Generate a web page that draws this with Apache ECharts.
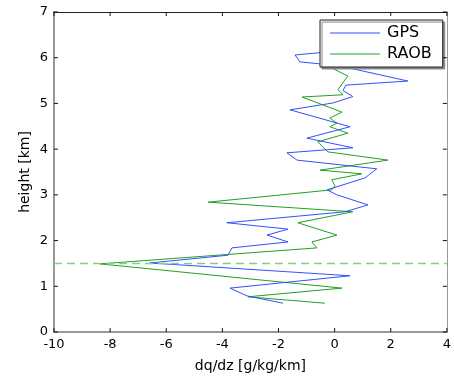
<!DOCTYPE html>
<html><head><meta charset="utf-8">
<script src="https://cdn.jsdelivr.net/npm/echarts@6/dist/echarts.min.js"></script>
<style>html,body{margin:0;padding:0;background:#fff}#c{width:454px;height:381px}</style>
</head><body><div id="c"></div>
<script>
// GPS profile: [dq/dz, height]
const gpsX = [-1.84,-3.12,-3.73,0.55,-6.58,-3.80,-3.66,-1.66,-2.41,-1.66,-3.84,0.37,1.19,0.08,-0.27,1.08,1.50,-1.34,-1.70,0.65,-0.99,0.55,-1.59,-0.06,0.65,0.30,0.40,2.61,0.19,-1.24,-1.41,-0.17];
const gpsH = [0.63,0.79,0.96,1.23,1.51,1.68,1.84,1.97,2.12,2.25,2.39,2.63,2.78,3.00,3.11,3.37,3.57,3.76,3.92,4.03,4.24,4.49,4.86,5.01,5.15,5.28,5.40,5.49,5.82,5.91,6.06,6.13];
// RAOB profile
const raobX = [-0.35,-3.09,0.26,-8.36,-0.63,-0.81,0.08,-1.31,0.65,-4.51,-0.10,0.01,-0.10,0.97,-0.52,1.90,-0.24,-0.60,0.47,-0.17,0.08,-0.17,0.26,-1.16,0.30,0.12,0.47,-0.52];
const raobH = [0.63,0.77,0.96,1.49,1.84,1.97,2.12,2.39,2.63,2.84,3.11,3.20,3.33,3.46,3.54,3.76,3.94,4.16,4.35,4.49,4.57,4.68,4.81,5.14,5.19,5.30,5.60,5.90];
const refHeight = 1.5;
// tick values
const xTickVals = [-10,-8,-6,-4,-2,0,2,4];
const yTickVals = [0,1,2,3,4,5,6,7];
const xRange = [-10, 4];
const yRange = [0, 7];

const font = 'DejaVu Sans';
const chart = echarts.init(document.getElementById('c'), null, {renderer:'canvas'});
const pairs = (xs, hs) => xs.map((v,i)=>[v, hs[i]]);
const TL = 4;
function tickRender(isX) {
  return function(params, api) {
    const v = api.value(0);
    let a, b;
    if (isX) {
      a = api.coord([v, yRange[0]]); b = api.coord([v, yRange[1]]);
      return {type:'group', children:[
        {type:'line', shape:{x1:a[0], y1:a[1], x2:a[0], y2:a[1]-TL}, style:{stroke:'#111', lineWidth:1}},
        {type:'line', shape:{x1:b[0], y1:b[1], x2:b[0], y2:b[1]+TL}, style:{stroke:'#111', lineWidth:1}}
      ]};
    } else {
      a = api.coord([xRange[0], v]); b = api.coord([xRange[1], v]);
      return {type:'group', children:[
        {type:'line', shape:{x1:a[0], y1:a[1], x2:a[0]+TL, y2:a[1]}, style:{stroke:'#111', lineWidth:1}},
        {type:'line', shape:{x1:b[0], y1:b[1], x2:b[0]-TL, y2:b[1]}, style:{stroke:'#111', lineWidth:1}}
      ]};
    }
  };
}
chart.setOption({
  animation:false,
  grid:{left:54, right:7, top:12, bottom:49, show:false},
  xAxis:[{
    type:'value', min:xRange[0], max:xRange[1], interval:2, position:'bottom',
    axisLine:{show:true, onZero:false, lineStyle:{color:'#999', width:2}},
    axisTick:{show:false}, splitLine:{show:false},
    axisLabel:{color:'#000', fontFamily:font, fontSize:13, margin:6},
    name:'dq/dz [g/kg/km]', nameLocation:'middle', nameGap:27, nameMoveOverlap:false,
    nameTextStyle:{color:'#000', fontFamily:font, fontSize:14}
  },{
    type:'value', min:xRange[0], max:xRange[1], interval:2, position:'top',
    axisLine:{show:true, onZero:false, lineStyle:{color:'#222', width:1}},
    axisLabel:{show:false}, axisTick:{show:false}, splitLine:{show:false}
  }],
  yAxis:[{
    type:'value', min:yRange[0], max:yRange[1], interval:1, position:'left',
    axisLine:{show:true, onZero:false, lineStyle:{color:'#999', width:2}},
    axisTick:{show:false}, splitLine:{show:false},
    axisLabel:{color:'#000', fontFamily:font, fontSize:13, margin:6},
    name:'height [km]', nameLocation:'middle', nameGap:22, nameMoveOverlap:false,
    nameTextStyle:{color:'#000', fontFamily:font, fontSize:14}
  },{
    type:'value', min:yRange[0], max:yRange[1], interval:1, position:'right',
    axisLine:{show:true, onZero:false, lineStyle:{color:'#999', width:1}},
    axisLabel:{show:false}, axisTick:{show:false}, splitLine:{show:false}
  }],
  legend:{
    orient:'vertical', left:320, top:20,
    backgroundColor:'#fff', borderColor:'#222', borderWidth:1,
    shadowColor:'#888', shadowBlur:0, shadowOffsetX:2, shadowOffsetY:2,
    padding:[5,11,5,10], itemGap:5, itemWidth:50, itemHeight:1, icon:'rect',
    textStyle:{color:'#000', fontFamily:font, fontSize:16, padding:[0,0,0,2]},
    data:['GPS','RAOB']
  },
  series:[
    {name:'GPS', type:'line', data:pairs(gpsX, gpsH), symbol:'none', color:'#3050ff',
     lineStyle:{width:1, color:'#3050ff'}, z:3},
    {name:'RAOB', type:'line', data:pairs(raobX, raobH), symbol:'none', color:'#22a022',
     lineStyle:{width:1, color:'#22a022'}, z:2},
    {name:'ref', type:'line', data:[[xRange[0], refHeight],[xRange[1], refHeight]], symbol:'none',
     lineStyle:{width:1.5, color:'#88cc88', type:[8,5]}, z:4, silent:true},
    {name:'xticks', type:'custom', data:xTickVals.map(v=>[v, yRange[0]]), renderItem:tickRender(true), clip:false, silent:true, z:5},
    {name:'yticks', type:'custom', data:yTickVals.map(v=>[xRange[0], v]), encode:{x:0,y:1}, renderItem:function(p, api){
        const v = api.value(1);
        const a = api.coord([xRange[0], v]), b = api.coord([xRange[1], v]);
        return {type:'group', children:[
          {type:'line', shape:{x1:a[0], y1:a[1], x2:a[0]+TL, y2:a[1]}, style:{stroke:'#111', lineWidth:1}},
          {type:'line', shape:{x1:b[0], y1:b[1], x2:b[0]-TL, y2:b[1]}, style:{stroke:'#111', lineWidth:1}}
        ]};
      }, clip:false, silent:true, z:5}
  ]
});
</script></body></html>
